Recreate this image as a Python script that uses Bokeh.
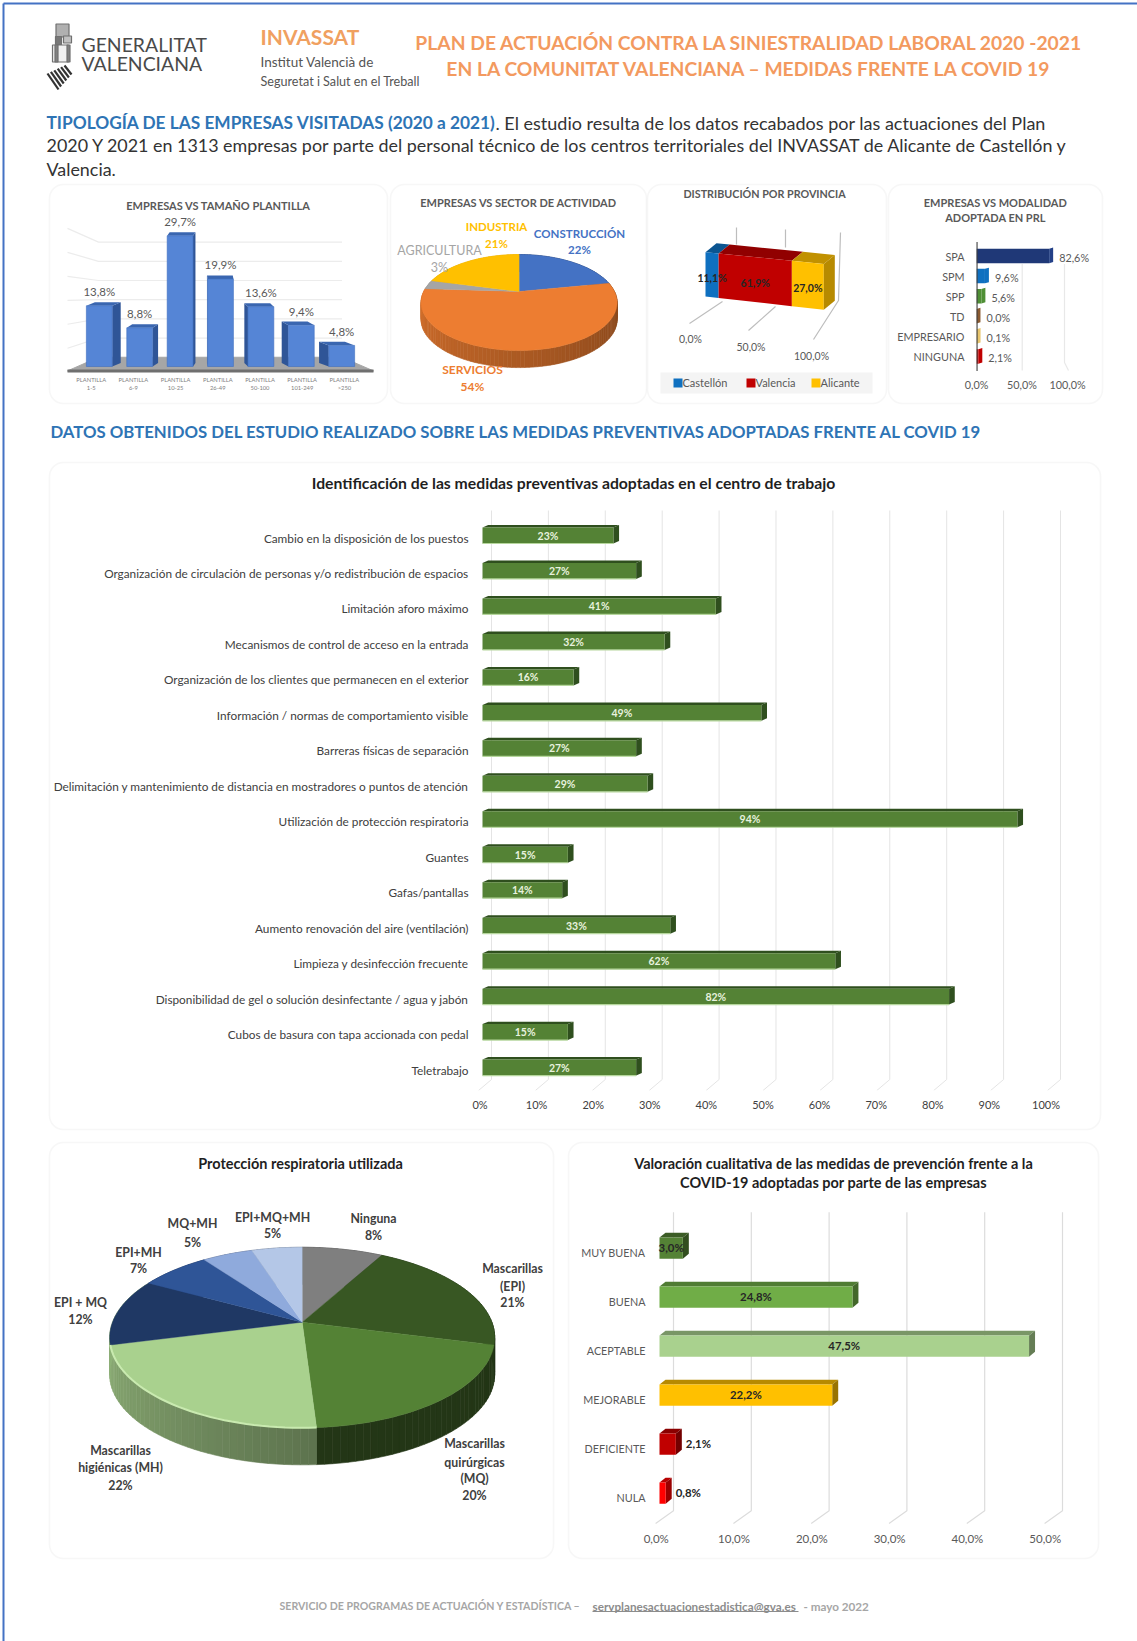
import math
from bokeh.plotting import figure
from bokeh.models import Range1d, BoxAnnotation, Label, FixedTicker, ColumnDataSource
from bokeh.core.properties import value
from bokeh.embed import file_html
from bokeh.resources import INLINE

# ---------- data ----------
size_cats = ["1-5", "6-9", "10-25", "26-49", "50-100", "101-249", ">250"]
size_vals = [13.8, 8.8, 29.7, 19.9, 13.6, 9.4, 4.8]

sector_names = ["CONSTRUCCIÓN", "SERVICIOS", "AGRICULTURA", "INDUSTRIA"]
sector_vals = [22, 54, 3, 21]

prov_names = ["Castellón", "Valencia", "Alicante"]
prov_vals = [11.1, 61.9, 27.0]

mod_names = ["SPA", "SPM", "SPP", "TD", "EMPRESARIO", "NINGUNA"]
mod_vals = [82.6, 9.6, 5.6, 0.0, 0.1, 2.1]

measure_names = [
    "Cambio en la disposición de los puestos",
    "Organización de circulación de personas y/o redistribución de espacios",
    "Limitación aforo máximo",
    "Mecanismos de control de acceso en la entrada",
    "Organización de los clientes que permanecen en el exterior",
    "Información / normas de comportamiento visible",
    "Barreras físicas de separación",
    "Delimitación y mantenimiento de distancia en mostradores o puntos de atención",
    "Utilización de protección respiratoria",
    "Guantes",
    "Gafas/pantallas",
    "Aumento renovación del aire (ventilación)",
    "Limpieza y desinfección frecuente",
    "Disponibilidad de gel o solución desinfectante / agua y jabón",
    "Cubos de basura con tapa accionada con pedal",
    "Teletrabajo",
]
measure_vals = [23, 27, 41, 32, 16, 49, 27, 29, 94, 15, 14, 33, 62, 82, 15, 27]

resp_vals = [8, 21, 20, 22, 12, 7, 5, 5]
resp_colors = ["#7f7f7f", "#385723", "#548235", "#a9d18e", "#1f3864", "#2f5597", "#8faadc", "#b4c7e7"]

qual_names = ["MUY BUENA", "BUENA", "ACEPTABLE", "MEJORABLE", "DEFICIENTE", "NULA"]
qual_vals = [3.0, 24.8, 47.5, 22.2, 2.1, 0.8]
qual_colors = ["#548235", "#70ad47", "#a9d18e", "#ffc000", "#c00000", "#ff0000"]

# ---------- helpers ----------
FONT = "Lato"
GREY = "#595959"
DARK = "#404040"
roots = []


def fmt(v):
    return f"{v:.1f}".replace(".", ",") + "%"


def shade(hex_color, f):
    r, g, b = (int(hex_color[i:i + 2], 16) for i in (1, 3, 5))
    return "#%02x%02x%02x" % (min(255, int(r * f)), min(255, int(g * f)), min(255, int(b * f)))


def base_fig(w, h, page_x, page_y, x_range, y_range, axes=False, borders=(0, 0, 0, 0)):
    kw = {} if axes else dict(x_axis_type=None, y_axis_type=None)
    p = figure(width=w, height=h, x_range=x_range, y_range=y_range, toolbar_location=None,
               output_backend="svg", margin=0, min_border_top=borders[0],
               min_border_right=borders[1], min_border_bottom=borders[2], min_border_left=borders[3],
               background_fill_alpha=0, border_fill_alpha=0, outline_line_color=None,
               styles={"position": "absolute", "left": f"{page_x}px", "top": f"{page_y}px"}, **kw)
    p.grid.visible = False
    roots.append(p)
    return p


def page_fig(w, h, x0, y0):
    """Figure whose data units are page pixels (for schematic 3D pies and decoration)."""
    return base_fig(w, h, x0, y0, Range1d(x0, x0 + w), Range1d(y0 + h, y0))


def labeler(p, x0, y0):
    def add(x, y, s, size=10, color=DARK, bold=False, align="center", font=FONT):
        p.add_layout(Label(x=x - x0, y=y - y0, x_units="canvas", y_units="canvas", text=s,
                           text_font=font, text_font_size=f"{size}px", text_color=color,
                           text_font_style="bold" if bold else "normal",
                           text_align=align, text_baseline="middle"))
    return add


def style_axis(ax, size, color, standoff):
    ax.axis_line_color = None
    ax.major_tick_line_color = None
    ax.minor_tick_line_color = None
    ax.major_tick_out = 0
    ax.major_tick_in = 0
    ax.minor_tick_out = 0
    ax.minor_tick_in = 0
    ax.major_label_text_font = FONT
    ax.major_label_text_font_size = size
    ax.major_label_text_color = color
    ax.major_label_standoff = standoff


def pie_point(phi, cx, cy, A, c, k, dy=0.0):
    a = math.radians(phi)
    u, v = math.sin(a), math.cos(a)
    w = 1 + k * v
    return cx + A * u / w, cy - c * v / w + dy


def draw_pie(p, vals, colors, cx, cy, A, c, k, depth, side_color):
    total = sum(vals)
    cum = 0.0
    spans = []
    for v in vals:
        spans.append((cum / total * 360, (cum + v) / total * 360))
        cum += v
    xs, ys, cols = [], [], []
    for idx, (a0, a1) in enumerate(spans):
        n = max(2, int((a1 - a0) / 2))
        for j in range(n):
            b0 = a0 + (a1 - a0) * j / n
            b1 = a0 + (a1 - a0) * (j + 1) / n
            pts = [pie_point(b0, cx, cy, A, c, k), pie_point(b1, cx, cy, A, c, k),
                   pie_point(b1, cx, cy, A, c, k, depth), pie_point(b0, cx, cy, A, c, k, depth)]
            xs.append([q_[0] for q_ in pts])
            ys.append([q_[1] for q_ in pts])
            cols.append(side_color(idx, (b0 + b1) / 2))
    p.patches(xs, ys, fill_color=cols, line_color=cols, line_width=0.6)
    xs, ys = [], []
    for (a0, a1) in spans:
        n = max(2, int((a1 - a0) / 2))
        pts = [(cx, cy)] + [pie_point(a0 + (a1 - a0) * j / n, cx, cy, A, c, k) for j in range(n + 1)]
        xs.append([q_[0] for q_ in pts])
        ys.append([q_[1] for q_ in pts])
    p.patches(xs, ys, fill_color=colors, line_color=colors, line_width=0.4)
    return spans


# ---------- page background: border, header, panels, titles, footer ----------
bg = page_fig(1137, 1641, 0, 0)
H = labeler(bg, 0, 0)
bg.segment(x0=[3, 3], x1=[3, 1137], y0=[3, 3], y1=[1641, 3], line_color="#4472c4", line_width=2)
for (l, r, t, b) in [(49, 387, 184, 403), (390, 646, 184, 403), (647, 886, 184, 403), (888, 1102, 184, 403),
                     (49, 1100, 462, 1129), (49, 553, 1142, 1558), (568, 1098, 1142, 1558)]:
    bg.add_layout(BoxAnnotation(left=l, right=r, top=t, bottom=b, left_units="canvas", right_units="canvas",
                                top_units="canvas", bottom_units="canvas", border_radius=14,
                                fill_color="#ffffff", fill_alpha=1, line_color="#e6e6e6", line_width=1.6))
# crest (decorative logo)
crest_x = [[47 + k * 3.4, 58 + k * 2.6] for k in range(6)]
crest_y = [[73 - k * 1.6, 89 - k * 3.0] for k in range(6)]
bg.multi_line(crest_x, crest_y, line_color="#333333", line_width=2.2)
bg.rect([62, 58, 67, 60, 56, 68], [30, 40, 39, 53, 53, 53], width=[13, 6, 8, 16, 3, 3],
        height=[13, 8, 7, 17, 17, 17], fill_color=["#b0b0b0", "#777777", "#c0c0c0", "#f0f0f0", "#808080", "#808080"],
        line_color="#707070", line_width=1.2)
H(81, 44, "GENERALITAT", 19.4, "#4a4a4a", align="left")
H(81, 63, "VALENCIANA", 19.4, "#4a4a4a", align="left")
H(260, 36, "INVASSAT", 21, "#f0a060", True, "left")
H(260, 61, "Institut Valencià de", 13.5, "#555555", False, "left")
H(260, 81, "Seguretat i Salut en el Treball", 12.6, "#555555", False, "left")
H(749, 42, "PLAN DE ACTUACIÓN CONTRA LA SINIESTRALIDAD LABORAL 2020 -2021", 19.3, "#f39a5f", True)
H(749, 68, "EN LA COMUNITAT VALENCIANA – MEDIDAS FRENTE LA COVID 19", 19.3, "#f39a5f", True)
H(46, 122, "TIPOLOGÍA DE LAS EMPRESAS VISITADAS (2020 a 2021)", 17.3, "#2e74b5", True, "left")
H(495, 122, ". El estudio resulta de los datos recabados por las actuaciones del Plan", 18, "#333333", False, "left")
H(46, 144, "2020 Y 2021 en 1313 empresas por parte del personal técnico de los centros territoriales del INVASSAT de Alicante de Castellón y", 17.9, "#333333", False, "left")
H(46, 168, "Valencia.", 17.9, "#333333", False, "left")
H(50, 431, "DATOS OBTENIDOS DEL ESTUDIO REALIZADO SOBRE LAS MEDIDAS PREVENTIVAS ADOPTADAS FRENTE AL COVID 19",
  16.75, "#2e74b5", True, "left")
H(218, 205, "EMPRESAS VS TAMAÑO PLANTILLA", 11, GREY, True)
H(518, 202, "EMPRESAS VS SECTOR DE ACTIVIDAD", 11, GREY, True)
H(764, 193, "DISTRIBUCIÓN POR PROVINCIA", 10.75, GREY, True)
H(995, 202, "EMPRESAS VS MODALIDAD", 11, GREY, True)
H(995, 217, "ADOPTADA EN PRL", 11, GREY, True)
H(573, 482, "Identificación de las medidas preventivas adoptadas en el centro de trabajo", 15.75, "#1f1f1f", True)
H(300, 1163, "Protección respiratoria utilizada", 14.5, "#1f1f1f", True)
H(833, 1163, "Valoración cualitativa de las medidas de prevención frente a la", 14.5, "#1f1f1f", True)
H(833, 1182, "COVID-19 adoptadas por parte de las empresas", 14.5, "#1f1f1f", True)
H(279, 1605, "SERVICIO DE PROGRAMAS DE ACTUACIÓN Y ESTADÍSTICA –", 10.6, "#a6a6a6", True, "left")
H(592, 1605, "servplanesactuacionestadistica@gva.es", 11.7, "#8c8c8c", True, "left")
H(803, 1605, "- mayo 2022", 11.7, "#a6a6a6", True, "left")
bg.segment(x0=[592], x1=[798], y0=[1611], y1=[1611], line_color="#8c8c8c", line_width=1)

# ---------- panel 1: company size ----------
P1W, P1H = 338, 219
fx = lambda px_: (px_ - 98.8) / 40.4
p1 = base_fig(P1W, P1H, 49, 184, Range1d(fx(60), fx(375)), Range1d(-6 / 4.4, 176 / 4.4),
              axes=True, borders=(6, 12, 31, 11))
p1.yaxis.visible = False
tick_pos = [round(fx(90.7 + 42.2 * i), 3) for i in range(len(size_cats))]
p1.xaxis.ticker = FixedTicker(ticks=tick_pos)
p1.xaxis.major_label_overrides = {t: "PLANTILLA\n" + c for t, c in zip(tick_pos, size_cats)}
style_axis(p1.xaxis, "5.8px", "#7f7f7f", 3)
# rear wall grid
g_x, g_y = [], []
for k in range(1, 7):
    g_x.append([fx(67), fx(98), fx(341.5)])
    g_y.append([-1.3 + 5.45 * k, 2.1 + 4.36 * k, 2.1 + 4.36 * k])
p1.multi_line(g_x, g_y, line_color="#ececec", line_width=1.2)
# floor
p1.patch([fx(67), fx(98), fx(341.5), fx(373), fx(373), fx(67)],
         [-1.0, 2.1, 2.1, -1.0, -1.0, -1.0], fill_color="#a6a6a6", line_color="#a6a6a6")
p1.quad(left=[fx(67)], right=[fx(373)], bottom=[-1.5], top=[-0.7], fill_color="#6f6f6f", line_color=None)
# 3D bars
bw = 0.64
for i, v in enumerate(size_vals):
    d = (2.8 - i) * 0.075
    xl, xr = i - bw / 2, i + bw / 2
    edge = xr if d >= 0 else xl
    p1.patch([edge, edge + d, edge + d, edge], [0, 0.8, v + 0.8, v], fill_color="#2f5597", line_color=None)
    p1.patch([xl, xr, xr + d, xl + d], [v, v, v + 0.8, v + 0.8], fill_color="#3a66b0", line_color=None)
src = ColumnDataSource(dict(x=list(range(len(size_vals))), top=size_vals, lab=[fmt(v) for v in size_vals]))
p1.vbar(x="x", top="top", bottom=0, width=bw, source=src, fill_color="#5585d6", line_color="#3f6fc0", line_width=0.6)
p1.text(x="x", y="top", text="lab", source=src, text_align="center", text_baseline="middle", y_offset=-14,
        text_font=value(FONT), text_font_size="11.5px", text_color=GREY)

# ---------- panel 2: sector pie ----------
p2 = page_fig(256, 219, 390, 184)
sector_colors = ["#4472c4", "#ed7d31", "#a5a5a5", "#ffc000"]
draw_pie(p2, sector_vals, sector_colors, 518.6, 291, 95.4, 45.5, 0.23, 17,
         lambda idx, phi: shade(sector_colors[idx], 0.55 + 0.35 * max(0.0, min(1.0, (phi - 90) / 180))))
L2 = labeler(p2, 390, 184)
L2(496, 226, sector_names[3], 11.5, "#ffc000", True)
L2(496, 243, f"{sector_vals[3]}%", 11.5, "#ffc000", True)
L2(579, 233, sector_names[0], 11.5, "#4472c4", True)
L2(579, 249, f"{sector_vals[0]}%", 11.5, "#4472c4", True)
L2(439, 250, sector_names[2], 12.5, "#a5a5a5", False)
L2(439, 267, f"{sector_vals[2]}%", 12.5, "#a5a5a5", False)
L2(472, 369, sector_names[1], 12, "#ed7d31", True)
L2(472, 386, f"{sector_vals[1]}%", 12, "#ed7d31", True)

# ---------- panel 3: province stacked 3D bar ----------
p3 = page_fig(239, 219, 647, 184)
px = lambda pct: 705 + 1.183 * pct
ptop = lambda pct: 251.7 + 0.117 * pct
pbot = lambda pct: 296 + 0.133 * pct
# perspective grid
p3.multi_line([[736, 736], [785, 785], [840, 838, 813], [689, 722], [748, 775]],
              [[227, 244], [229, 247], [232, 300, 339], [323, 301], [330, 306]],
              line_color="#bdbdbd", line_width=1.2)
prov_colors = ["#0f70c0", "#c00000", "#ffc000"]
DX, DY = 11, -9
cum = 0
for v, col in zip(prov_vals, prov_colors):
    a, b = cum, cum + v
    cum = b
    p3.patch([px(a), px(b), px(b) + DX, px(a) + DX], [ptop(a), ptop(b), ptop(b) + DY, ptop(a) + DY],
             fill_color=shade(col, 0.76), line_color=None)
    p3.patch([px(a), px(b), px(b), px(a)], [ptop(a), ptop(b), pbot(b), pbot(a)], fill_color=col, line_color=None)
p3.patch([px(100), px(100) + DX, px(100) + DX, px(100)],
         [ptop(100), ptop(100) + DY, pbot(100) + DY, pbot(100)], fill_color=shade(prov_colors[2], 0.72), line_color=None)
L3 = labeler(p3, 647, 184)
cum = 0
for v in prov_vals:
    m = cum + v / 2
    cum += v
    L3(px(m), (ptop(m) + pbot(m)) / 2 + 3, fmt(v), 10.5, "#262626", True)
for t in [0, 50, 100]:
    L3(690 + 1.21 * t, 338 + 0.17 * t, fmt(t), 10.5, GREY)
p3.quad(left=[660], right=[872], top=[372], bottom=[393], fill_color="#f4f4f4", line_color=None)
leg_x = [673, 746, 811]
p3.quad(left=leg_x, right=[x + 9 for x in leg_x], top=[378] * 3, bottom=[387] * 3, fill_color=prov_colors, line_color=None)
for x, n in zip(leg_x, prov_names):
    L3(x + 9, 382, n, 11, GREY, align="left")

# ---------- panel 4: PRL modality ----------
P4W, P4H = 214, 219
S4 = 0.88
p4 = base_fig(P4W, P4H, 888, 184, Range1d(0, 116 / S4), Range1d(116.5 / 20.1, -17.5 / 20.1),
              axes=True, borders=(54, 10, 31, 88))
t4 = {round(v * 0.91 / S4, 2): fmt(v) for v in [0, 50, 100]}
p4.xaxis.ticker = FixedTicker(ticks=list(t4))
p4.xaxis.major_label_overrides = t4
rows4 = list(range(len(mod_names)))
p4.yaxis.ticker = FixedTicker(ticks=rows4)
p4.yaxis.major_label_overrides = dict(zip(rows4, mod_names))
style_axis(p4.xaxis, "10.8px", GREY, 5)
style_axis(p4.yaxis, "10.8px", GREY, 12)
p4.multi_line([[45.7 / S4, 45.7 / S4], [88 / S4, 88 / S4, 92 / S4]],
              [[0.4, 5.7], [0.4, 5.3, 5.7]], line_color="#e8e8e8", line_width=1.2)
mod_colors = ["#1f3877", "#0f70c0", "#4f8f35", "#8a5a30", "#e8c56d", "#c00000"]
DX4 = 4.5
for i, (v, col) in enumerate(zip(mod_vals, mod_colors)):
    p4.patch([v, v + DX4, v + DX4, v], [i - 0.36, i - 0.42, i + 0.3, i + 0.36],
             fill_color=shade(col, 1.15) if i == 0 else col, line_color=None)
src4 = ColumnDataSource(dict(y=rows4, right=mod_vals, end=[v + DX4 for v in mod_vals],
                             lab=[fmt(v) for v in mod_vals], fill=mod_colors))
p4.hbar(y="y", left=0, right="right", height=0.72, source=src4, fill_color="fill", line_color=None)
p4.text(x="end", y="y", text="lab", source=src4, text_align="left", text_baseline="middle", x_offset=6, y_offset=1,
        text_font=value(FONT), text_font_size="10.8px", text_color=GREY)
p4.segment(x0=[0], x1=[0], y0=[-0.7], y1=[5.72], line_color="#3f3f3f", line_width=2.2)

# ---------- main bar chart ----------
MW, MH = 1051, 667
SX, SY = 5.69, 35.47
gy = lambda page_y: (page_y - 537.5) / SY
mp = base_fig(MW, MH, 49, 462, Range1d(-6 / SX, 603 / SX), Range1d(gy(1090), gy(500)),
              axes=True, borders=(38, 15, 39, 427))
rows = list(range(len(measure_names)))
mp.yaxis.ticker = FixedTicker(ticks=rows)
mp.yaxis.major_label_overrides = dict(zip(rows, measure_names))
m_ticks = {round((5.66 * v - 2.5) / SX, 3): f"{v}%" for v in range(0, 101, 10)}
mp.xaxis.ticker = FixedTicker(ticks=list(m_ticks))
mp.xaxis.major_label_overrides = m_ticks
style_axis(mp.xaxis, "11px", DARK, 7)
style_axis(mp.yaxis, "11.8px", DARK, 8)
mp.multi_line([[v + 1.58, v + 1.58, v - 0.7] for v in range(0, 101, 10)],
              [[gy(510), gy(1079), gy(1090)] for _ in range(0, 101, 10)], line_color="#e4e4e4", line_width=1)
BAR_OFF = -0.07
BH = 0.45
M_DX, M_DY = 1.0, 0.07
for i, v in enumerate(measure_vals):
    yt = i + BAR_OFF - BH / 2
    yb = i + BAR_OFF + BH / 2
    mp.patch([0, v, v + M_DX, M_DX], [yt, yt, yt - M_DY, yt - M_DY], fill_color="#2f4f1e", line_color=None)
    mp.patch([v, v + M_DX, v + M_DX, v], [yt, yt - M_DY, yb - M_DY, yb], fill_color="#2f4f1e", line_color=None)
msrc = ColumnDataSource(dict(y=[i + BAR_OFF for i in rows], right=measure_vals, mid=[v / 2 for v in measure_vals],
                             lab=[f"{v}%" for v in measure_vals]))
mp.hbar(y="y", left=0, right="right", height=BH, source=msrc, fill_color="#548235", line_color=None)
mp.segment(x0=[0] * len(rows), x1=measure_vals, y0=[i + BAR_OFF + BH / 2 for i in rows],
           y1=[i + BAR_OFF + BH / 2 for i in rows], line_color="#b5d69c", line_width=1.2)
mp.text(x="mid", y="y", text="lab", source=msrc, text_align="center", text_baseline="middle",
        text_font=value(FONT), text_font_size="10.5px", text_font_style="bold", text_color="#e8f2df")

# ---------- respiratory protection pie ----------
p5 = page_fig(504, 416, 49, 1142)


def resp_side(idx, phi):
    if idx == 3 or idx == 4:
        # the light slice's wall, lit from the left; the wall below the navy slice reads the same
        return shade(resp_colors[3], 0.55 + 0.3 * max(0.0, min(1.0, (phi - 176) / 90)))
    if idx == 2:
        return shade(resp_colors[2], 0.42)
    return shade(resp_colors[idx], 0.55)


spans5 = draw_pie(p5, resp_vals, resp_colors, 301.7, 1321.7, 189.7, 87.7, 0.17, 37, resp_side)
# lit rim along the front edge of the light slice
a0, a1 = spans5[3]
rim = [pie_point(a0 + (a1 - a0) * j / 40, 301.7, 1321.7, 189.7, 87.7, 0.17) for j in range(41)]
p5.line([q_[0] for q_ in rim], [q_[1] for q_ in rim], line_color="#c9eab0", line_width=2)
L5 = labeler(p5, 49, 1142)
resp_labels = [
    (373, [(1218, "Ninguna"), (1235, f"{resp_vals[0]}%")]),
    (512, [(1268, "Mascarillas"), (1286, "(EPI)"), (1302, f"{resp_vals[1]}%")]),
    (474, [(1443, "Mascarillas"), (1462, "quirúrgicas"), (1478, "(MQ)"), (1495, f"{resp_vals[2]}%")]),
    (120, [(1450, "Mascarillas"), (1467, "higiénicas (MH)"), (1485, f"{resp_vals[3]}%")]),
    (80, [(1302, "EPI + MQ"), (1319, f"{resp_vals[4]}%")]),
    (138, [(1252, "EPI+MH"), (1268, f"{resp_vals[5]}%")]),
    (192, [(1223, "MQ+MH"), (1242, f"{resp_vals[6]}%")]),
    (272, [(1217, "EPI+MQ+MH"), (1233, f"{resp_vals[7]}%")]),
]
for x, lines in resp_labels:
    for y, s in lines:
        L5(x, y, s, 12.3, DARK, True)

# ---------- qualitative valuation ----------
QW, QH = 530, 416
QX, QY = 7.78, 49.0
q = base_fig(QW, QH, 568, 1142, Range1d(-9 / QX, 421 / QX), Range1d(272 / QY, -52 / QY),
             axes=True, borders=(58, 18, 34, 82))
qrows = list(range(len(qual_names)))
q.yaxis.ticker = FixedTicker(ticks=qrows)
q.yaxis.major_label_overrides = dict(zip(qrows, qual_names))
q_ticks = {round(v - 0.42, 2): fmt(v) for v in range(0, 51, 10)}
q.xaxis.ticker = FixedTicker(ticks=list(q_ticks))
q.xaxis.major_label_overrides = q_ticks
style_axis(q.xaxis, "11.5px", GREY, 7)
style_axis(q.yaxis, "10.8px", GREY, 5)
q.multi_line([[v + 1.8, v + 1.8, v - 0.5] for v in range(0, 51, 10)],
             [[-0.82, 5.27, 5.53] for _ in range(0, 51, 10)], line_color="#dcdcdc", line_width=1.2)
Q_OFF, Q_H, Q_DX, Q_DY = -0.09, 0.43, 0.77, 0.1
for i, (v, col) in enumerate(zip(qual_vals, qual_colors)):
    yt = i + Q_OFF - Q_H / 2
    yb = i + Q_OFF + Q_H / 2
    q.patch([0, v, v + Q_DX, Q_DX], [yt, yt, yt - Q_DY, yt - Q_DY], fill_color=shade(col, 0.72), line_color=None)
    q.patch([v, v + Q_DX, v + Q_DX, v], [yt, yt - Q_DY, yb - Q_DY, yb], fill_color=shade(col, 0.6), line_color=None)
qsrc = ColumnDataSource(dict(y=[i + Q_OFF for i in qrows], right=qual_vals, fill=qual_colors))
q.hbar(y="y", left=0, right="right", height=Q_H, source=qsrc, fill_color="fill", line_color=None)
inside = [i for i, v in enumerate(qual_vals) if v >= 3]
outside = [i for i, v in enumerate(qual_vals) if v < 3]
q.text(x=[qual_vals[i] / 2 for i in inside], y=[i + Q_OFF for i in inside], text=[fmt(qual_vals[i]) for i in inside],
       text_align="center", text_baseline="middle", y_offset=-1, text_font=value(FONT), text_font_size="11.4px",
       text_font_style="bold", text_color="#262626")
q.text(x=[qual_vals[i] + Q_DX for i in outside], y=[i + Q_OFF for i in outside], text=[fmt(qual_vals[i]) for i in outside],
       text_align="left", text_baseline="middle", x_offset=4, y_offset=-1, text_font=value(FONT), text_font_size="11.4px",
       text_font_style="bold", text_color="#262626")

open("out.html", "w").write(file_html(roots, INLINE))
